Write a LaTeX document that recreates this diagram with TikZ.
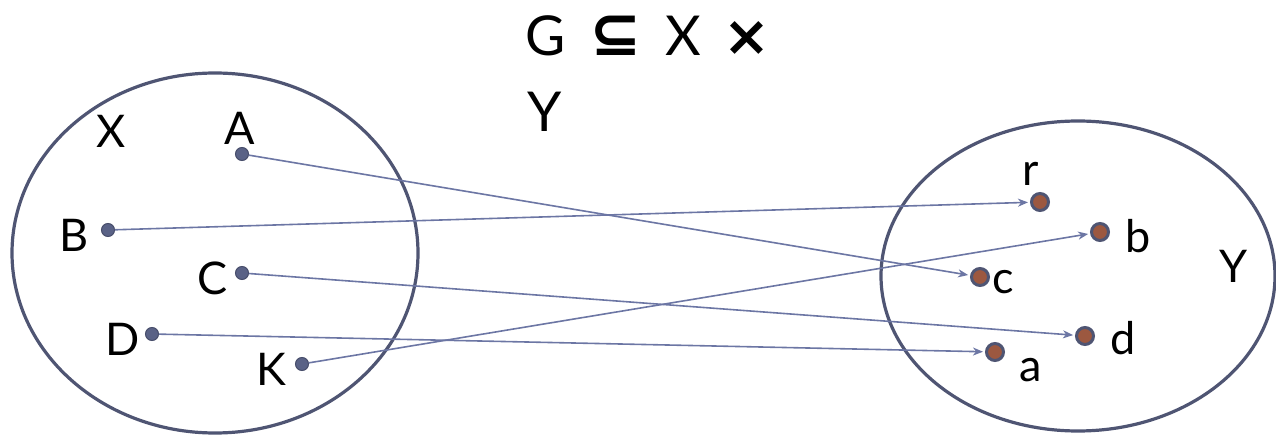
\documentclass[tikz,border=0pt]{standalone}
\usepackage{fontspec}
\setmainfont{Lato}
\newfontfamily\symfont{DejaVu Sans}
\usetikzlibrary{arrows.meta}
\definecolor{ring}{HTML}{4F5573}
\definecolor{ldot}{HTML}{5A6286}
\definecolor{rdot}{HTML}{9C5840}
\definecolor{arr}{HTML}{6C76A4}
\tikzset{
  lbl/.style={font=\fontsize{45}{45}\selectfont, inner sep=0pt, text=black},
  ttl/.style={font=\fontsize{55}{55}\selectfont, inner sep=0pt, anchor=base west, text=black},
  ldotst/.style={circle, fill=ldot, draw=ldot!80!black, line width=1pt, minimum size=13pt, inner sep=0pt},
  rdotst/.style={circle, fill=rdot, draw=ring, line width=3pt, minimum size=17pt, inner sep=0pt},
  rel/.style={draw=arr, line width=1.6pt, -{Stealth[length=10pt,width=8pt,inset=3pt]}, shorten >=2pt},
  setring/.style={draw=ring, line width=3.2pt}
}
\begin{document}
\begin{tikzpicture}[x=1pt,y=-1pt]
\useasboundingbox (0,0) rectangle (1276,435);
\draw[setring] (215,253) ellipse [x radius=203, y radius=180];
\draw[setring] (1078,276) ellipse [x radius=197, y radius=155];
% title
\node[ttl] (t1) at (525,56) {G\hspace{24pt}{\symfont\bfseries\fontsize{62}{62}\selectfont ⊆}\hspace{24pt}X\hspace{22pt}{\symfont\bfseries\fontsize{56}{56}\selectfont ×}};
\node[ttl] (t2) at (527,132) {Y};
% set labels
\node[lbl] (lX) at (111,131) {X};
\node[lbl] (lY) at (1234,266) {Y};
% left dots
\node[ldotst] (A) at (242,154) {};
\node[ldotst] (B) at (108,230) {};
\node[ldotst] (C) at (242,273) {};
\node[ldotst] (D) at (152,334) {};
\node[ldotst] (K) at (302,364) {};
\node[lbl] at (240,128) {A};
\node[lbl] at (74,235) {B};
\node[lbl] at (213,278) {C};
\node[lbl] at (123,339) {D};
\node[lbl] at (271,369) {K};
% right dots
\node[rdotst] (r) at (1040,202) {};
\node[rdotst] (b) at (1100,232) {};
\node[rdotst] (c) at (980,277) {};
\node[rdotst] (d) at (1085,336) {};
\node[rdotst] (a) at (995,352) {};
\node[lbl] at (1031,174) {r};
\node[lbl] at (1138,236) {b};
\node[lbl] at (1003,282) {c};
\node[lbl] at (1123,338) {d};
\node[lbl] at (1031,370) {a};
% relations
\draw[rel] (A) -- (c);
\draw[rel] (B) -- (r);
\draw[rel] (C) -- (d);
\draw[rel] (D) -- (a);
\draw[rel] (K) -- (b);
\end{tikzpicture}
\end{document}
